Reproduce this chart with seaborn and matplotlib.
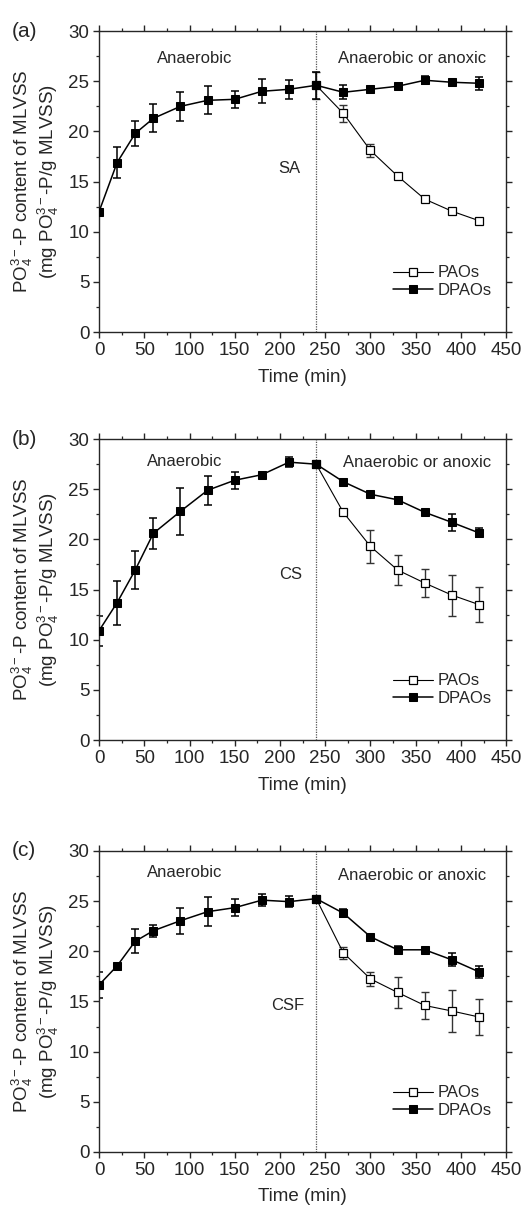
import matplotlib
matplotlib.use("Agg")
import matplotlib.pyplot as plt
import seaborn as sns
import numpy as np
import pandas as pd
from matplotlib.ticker import MultipleLocator

sns.set_style("ticks")
plt.rcParams['font.family'] = ['Liberation Sans', 'DejaVu Sans']
plt.rcParams['mathtext.fontset'] = 'custom'
plt.rcParams['mathtext.rm'] = 'Liberation Sans'
plt.rcParams['mathtext.it'] = 'Liberation Sans'

# ---- data ----
time_all = [0, 20, 40, 60, 90, 120, 150, 180, 210, 240, 270, 300, 330, 360, 390, 420]
time_pao = [240, 270, 300, 330, 360, 390, 420]

# Panel (a) SA
dpao_a = [12.0, 16.9, 19.8, 21.3, 22.5, 23.1, 23.2, 24.0, 24.2, 24.6, 23.9, 24.2, 24.5, 25.1, 24.9, 24.8]
dpao_a_err = [0.2, 1.55, 1.27, 1.4, 1.43, 1.38, 0.85, 1.2, 0.95, 1.35, 0.7, 0.2, 0.2, 0.4, 0.2, 0.65]
pao_a = [24.6, 21.8, 18.1, 15.55, 13.25, 12.05, 11.1]
pao_a_err = [1.35, 0.83, 0.63, 0.2, 0.15, 0.2, 0.2]

# Panel (b) CS
dpao_b = [10.9, 13.7, 16.95, 20.6, 22.8, 24.9, 25.9, 26.45, 27.7, 27.5, 25.75, 24.5, 23.95, 22.7, 21.7, 20.65]
dpao_b_err = [1.5, 2.2, 1.9, 1.53, 2.33, 1.45, 0.83, 0.2, 0.5, 0.2, 0.2, 0.2, 0.25, 0.2, 0.83, 0.45]
pao_b = [27.5, 22.7, 19.3, 16.95, 15.65, 14.45, 13.5]
pao_b_err = [0.2, 0.3, 1.68, 1.5, 1.37, 2.05, 1.77]

# Panel (c) CSF
dpao_c = [16.65, 18.55, 21.0, 22.05, 23.05, 23.95, 24.35, 25.1, 24.95, 25.25, 23.8, 21.45, 20.15, 20.15, 19.15, 17.95]
dpao_c_err = [1.3, 0.2, 1.2, 0.6, 1.3, 1.45, 0.83, 0.62, 0.52, 0.2, 0.42, 0.2, 0.35, 0.2, 0.65, 0.57]
pao_c = [25.25, 19.85, 17.25, 15.9, 14.6, 14.05, 13.45]
pao_c_err = [0.2, 0.6, 0.7, 1.53, 1.35, 2.05, 1.77]

panels = [
    ("(a)", "SA", dpao_a, dpao_a_err, pao_a, pao_a_err, (106, 27.3), (346, 27.3), (210, 16.3)),
    ("(b)", "CS", dpao_b, dpao_b_err, pao_b, pao_b_err, (95, 27.8), (352, 27.65), (212, 16.5)),
    ("(c)", "CSF", dpao_c, dpao_c_err, pao_c, pao_c_err, (95, 27.9), (346, 27.6), (208, 14.6)),
]

fig = plt.figure(figsize=(5.24, 12.15), dpi=100)
bottoms = [0.7267, 0.3909, 0.0519]
left, width, height = 0.189, 0.777, 0.2477

ylabel = "PO$_4^{3-}$-P content of MLVSS\n(mg PO$_4^{3-}$-P/g MLVSS)"

for (lab, name, dp, dpe, pa, pae, t1, t2, t3), b in zip(panels, bottoms):
    ax = fig.add_axes([left, b, width, height])
    df_d = pd.DataFrame({"Time": time_all, "P": dp})
    df_p = pd.DataFrame({"Time": time_pao, "P": pa})
    ax.axvline(240, color="#555555", lw=0.9, ls=(0, (1, 1)), zorder=1)
    ax.errorbar(time_pao, pa, yerr=pae, fmt="none", ecolor="#333333", elinewidth=1.0, capsize=3, capthick=1.0, zorder=2)
    ax.errorbar(time_all, dp, yerr=dpe, fmt="none", ecolor="black", elinewidth=1.1, capsize=3, capthick=1.1, zorder=2)
    sns.lineplot(data=df_p, x="Time", y="P", ax=ax, color="black", lw=0.8, marker="s", markersize=5.5,
                 markerfacecolor="white", markeredgecolor="black", markeredgewidth=0.9, label="PAOs", zorder=3)
    sns.lineplot(data=df_d, x="Time", y="P", ax=ax, color="black", lw=1.1, marker="s", markersize=6,
                 markerfacecolor="black", markeredgecolor="black", label="DPAOs", zorder=4)
    ax.set_xlim(0, 450)
    ax.set_ylim(0, 30)
    ax.xaxis.set_major_locator(MultipleLocator(50))
    ax.xaxis.set_minor_locator(MultipleLocator(25))
    ax.yaxis.set_major_locator(MultipleLocator(5))
    ax.yaxis.set_minor_locator(MultipleLocator(2.5))
    ax.tick_params(axis="both", which="major", direction="out", length=4, width=1, labelsize=13.5, pad=3,
                   top=True, right=True)
    ax.tick_params(axis="both", which="minor", direction="out", length=2.5, width=0.9, top=True, right=True)
    for s in ax.spines.values():
        s.set_linewidth(1.0)
    ax.set_xlabel("Time (min)", fontsize=13.5, labelpad=7)
    ax.set_ylabel(ylabel, fontsize=13.5, labelpad=5, linespacing=1.05)
    ax.text(*t1, "Anaerobic", ha="center", va="center", fontsize=12)
    ax.text(*t2, "Anaerobic or anoxic", ha="center", va="center", fontsize=12)
    ax.text(*t3, name, ha="center", va="center", fontsize=12)
    ax.text(-0.215, 1.0, lab, transform=ax.transAxes, ha="left", va="center", fontsize=15)
    leg = ax.legend(loc="lower right", bbox_to_anchor=(0.99, 0.08), frameon=False, fontsize=12,
                    handlelength=2.4, handletextpad=0.3, labelspacing=0.15, borderaxespad=0.2)

fig.savefig("out.png", dpi=100)
